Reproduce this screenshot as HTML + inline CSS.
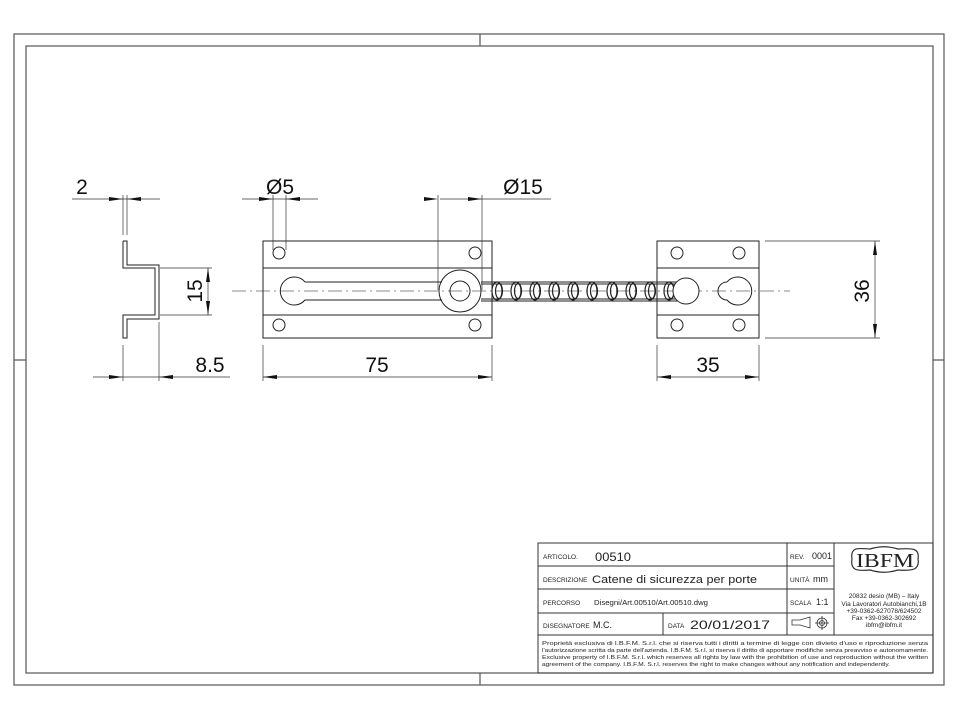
<!DOCTYPE html>
<html><head><meta charset="utf-8"><style>
html,body{margin:0;padding:0;background:#fff;}
svg{display:block;font-family:"Liberation Sans",sans-serif;}
</style></head><body>
<svg width="960" height="720" viewBox="0 0 960 720" xmlns="http://www.w3.org/2000/svg">
<g fill="none" stroke="#555" stroke-width="1.2">
<rect x="14" y="34" width="930" height="651"/>
<rect x="26" y="46" width="907" height="627"/>
<line x1="480" y1="34" x2="480" y2="46"/><line x1="480" y1="673" x2="480" y2="685"/>
<line x1="14" y1="360" x2="26" y2="360"/><line x1="933" y1="360" x2="944" y2="360"/>
</g>
<g fill="none" stroke="#222" stroke-width="1">
<polyline points="123,241 123,268 155,268 155,315 123,315 123,338 127,338 127,319 159,319 159,265 127,265 127,241 123,241"/>
<line x1="232" y1="291" x2="790" y2="291" stroke="#666" stroke-width="0.8" stroke-dasharray="14,4,2,4"/>
<rect x="263" y="241" width="229" height="97"/>
<line x1="263" y1="268" x2="492" y2="268"/><line x1="263" y1="315" x2="492" y2="315"/>
<circle cx="279" cy="253" r="6"/><circle cx="475" cy="253" r="6"/>
<circle cx="279" cy="325" r="6"/><circle cx="475" cy="325" r="6"/>
<path d="M305,282 A14,14 0 1,0 305,300 L442,300 M305,282 L442,282"/>
<circle cx="460" cy="291" r="21"/><circle cx="460" cy="291" r="10"/>
<line x1="481" y1="282" x2="680" y2="282"/><line x1="481" y1="284" x2="680" y2="284"/>
<line x1="481" y1="299" x2="680" y2="299"/><line x1="481" y1="301" x2="680" y2="301"/>
<g stroke-width="1.2">
<ellipse cx="497" cy="291" rx="5" ry="9"/><ellipse cx="516" cy="291" rx="5" ry="9"/>
<ellipse cx="535" cy="291" rx="5" ry="9"/><ellipse cx="554" cy="291" rx="5" ry="9"/>
<ellipse cx="573" cy="291" rx="5" ry="9"/><ellipse cx="592" cy="291" rx="5" ry="9"/>
<ellipse cx="612" cy="291" rx="5" ry="9"/><ellipse cx="631" cy="291" rx="5" ry="9"/>
<ellipse cx="650" cy="291" rx="5" ry="9"/><ellipse cx="669" cy="291" rx="5" ry="9"/>
<ellipse cx="499" cy="291" rx="3.5" ry="7.5"/><ellipse cx="518" cy="291" rx="3.5" ry="7.5"/>
<ellipse cx="537" cy="291" rx="3.5" ry="7.5"/><ellipse cx="556" cy="291" rx="3.5" ry="7.5"/>
<ellipse cx="575" cy="291" rx="3.5" ry="7.5"/><ellipse cx="594" cy="291" rx="3.5" ry="7.5"/>
<ellipse cx="614" cy="291" rx="3.5" ry="7.5"/><ellipse cx="633" cy="291" rx="3.5" ry="7.5"/>
<ellipse cx="652" cy="291" rx="3.5" ry="7.5"/><ellipse cx="671" cy="291" rx="3.5" ry="7.5"/>
</g>
<rect x="657" y="241" width="102" height="97"/>
<line x1="657" y1="268" x2="759" y2="268"/><line x1="657" y1="315" x2="759" y2="315"/>
<circle cx="677" cy="253" r="6"/><circle cx="739" cy="253" r="6"/>
<circle cx="677" cy="325" r="6"/><circle cx="739" cy="325" r="6"/>
<circle cx="686" cy="291" r="13" fill="#fff"/>
<path d="M727,282 A14,14 0 1,1 727,300 A7,7 0 1,1 727,282"/>
</g>
<g stroke="#333" stroke-width="0.7" fill="none">
<line x1="123" y1="195" x2="123" y2="235"/><line x1="127" y1="195" x2="127" y2="235"/>
<line x1="72" y1="199" x2="160" y2="199"/>
<line x1="273" y1="195" x2="273" y2="250"/><line x1="286" y1="195" x2="286" y2="250"/>
<line x1="242" y1="199" x2="318" y2="199"/>
<line x1="438" y1="195" x2="438" y2="290"/><line x1="482" y1="195" x2="482" y2="290"/>
<line x1="440" y1="199" x2="551" y2="199"/>
<line x1="160" y1="268" x2="212" y2="268"/><line x1="160" y1="315" x2="212" y2="315"/>
<line x1="208" y1="268" x2="208" y2="315"/>
<line x1="123" y1="345" x2="123" y2="381"/><line x1="159" y1="322" x2="159" y2="381"/>
<line x1="93" y1="377" x2="230" y2="377"/>
<line x1="263" y1="345" x2="263" y2="381"/><line x1="492" y1="345" x2="492" y2="381"/>
<line x1="263" y1="377" x2="492" y2="377"/>
<line x1="657" y1="345" x2="657" y2="381"/><line x1="759" y1="345" x2="759" y2="381"/>
<line x1="657" y1="377" x2="759" y2="377"/>
<line x1="765" y1="241" x2="880" y2="241"/><line x1="765" y1="338" x2="880" y2="338"/>
<line x1="875" y1="241" x2="875" y2="338"/>
</g>
<g fill="#111">
<path d="M123,199 l-14,-2 v4z"/><path d="M127,199 l14,-2 v4z"/>
<path d="M273,199 l-14,-2 v4z"/><path d="M286,199 l14,-2 v4z"/>
<path d="M438,199 l-14,-2 v4z"/><path d="M482,199 l-14,-2 v4z"/>
<path d="M208,268 l-2,14 h4z"/><path d="M208,315 l-2,-14 h4z"/>
<path d="M123,377 l-14,-2 v4z"/><path d="M159,377 l14,-2 v4z"/>
<path d="M263,377 l14,-2 v4z"/><path d="M492,377 l-14,-2 v4z"/>
<path d="M657,377 l14,-2 v4z"/><path d="M759,377 l-14,-2 v4z"/>
<path d="M875,241 l-2,14 h4z"/><path d="M875,338 l-2,-14 h4z"/>
</g>
<g font-size="21" fill="#111" text-anchor="middle">
<text x="82" y="194">2</text>
<text x="280" y="194">Ø5</text>
<text x="523" y="194">Ø15</text>
<text x="210" y="372">8.5</text>
<text x="377" y="372">75</text>
<text x="708" y="372">35</text>
<text transform="translate(202,291) rotate(-90)">15</text>
<text transform="translate(869,291) rotate(-90)">36</text>
</g>
<g fill="none" stroke="#333" stroke-width="1">
<rect x="538" y="543" width="395" height="130"/>
<line x1="538" y1="566" x2="834" y2="566"/><line x1="538" y1="589" x2="834" y2="589"/>
<line x1="538" y1="613" x2="834" y2="613"/><line x1="538" y1="635" x2="933" y2="635"/>
<line x1="787" y1="543" x2="787" y2="635"/><line x1="834" y1="543" x2="834" y2="635"/>
<line x1="663" y1="613" x2="663" y2="635"/>
<path d="M852,559 C850,547 858,548 870,549 C880,546 888,546 898,549 C912,548 920,548 918,559 C920,570 912,571 898,570 C888,573 880,573 870,570 C858,571 850,571 852,559Z" stroke-width="1.2"/>
<path d="M792,620 h8 l10,-3 v11 l-10,-3 h-8z M822,616 v14 M815,623 h14" stroke-width="0.8"/>
<circle cx="822" cy="623" r="5" stroke-width="0.8"/><circle cx="822" cy="623" r="2.5" stroke-width="0.8"/>
</g>
<g fill="#222" font-size="6.5">
<text x="543" y="559">ARTICOLO.</text>
<text x="595" y="561" font-size="12" textLength="36" lengthAdjust="spacingAndGlyphs">00510</text>
<text x="790" y="559">REV.</text><text x="812" y="559" font-size="9">0001</text>
<text x="543" y="582">DESCRIZIONE</text>
<text x="592" y="583" font-size="11" textLength="165" lengthAdjust="spacingAndGlyphs">Catene di sicurezza per porte</text>
<text x="790" y="582">UNITÀ</text><text x="813" y="582" font-size="9">mm</text>
<text x="543" y="605">PERCORSO</text>
<text x="594" y="605" font-size="7" textLength="114" lengthAdjust="spacingAndGlyphs">Disegni/Art.00510/Art.00510.dwg</text>
<text x="790" y="605">SCALA</text><text x="816" y="605" font-size="9">1:1</text>
<text x="543" y="628">DISEGNATORE</text><text x="593" y="628" font-size="9">M.C.</text>
<text x="668" y="628">DATA</text><text x="690" y="629" font-size="12" textLength="80" lengthAdjust="spacingAndGlyphs">20/01/2017</text>
<text x="885" y="567" font-family="Liberation Serif,serif" font-size="20" text-anchor="middle" textLength="58" lengthAdjust="spacingAndGlyphs">IBFM</text>
<g font-size="6.5" text-anchor="middle">
<text x="884" y="598">20832 desio (MB) – Italy</text>
<text x="884" y="606">Via Lavoratori Autobianchi,1B</text>
<text x="884" y="613">+39-0362-627078/624502</text>
<text x="884" y="620">Fax +39-0362-302692</text>
<text x="884" y="627">ibfm@ibfm.it</text>
</g>
<g font-size="5.3">
<text x="542" y="645" textLength="386" lengthAdjust="spacingAndGlyphs">Proprietà esclusiva di I.B.F.M. S.r.l. che si riserva tutti i diritti a termine di legge con divieto d'uso e riproduzione senza</text>
<text x="542" y="652" textLength="386" lengthAdjust="spacingAndGlyphs">l'autorizzazione scritta da parte dell'azienda. I.B.F.M. S.r.l. si riserva il diritto di apportare modifiche senza preavviso e autonomamente.</text>
<text x="542" y="659" textLength="386" lengthAdjust="spacingAndGlyphs">Exclusive property of I.B.F.M. S.r.l. which reserves all rights by law with the prohibition of use and reproduction without the written</text>
<text x="542" y="666" textLength="348" lengthAdjust="spacingAndGlyphs">agreement of the company. I.B.F.M. S.r.l. reserves the right to make changes without any notification and independently.</text>
</g>
</g>
</svg>
</body></html>
